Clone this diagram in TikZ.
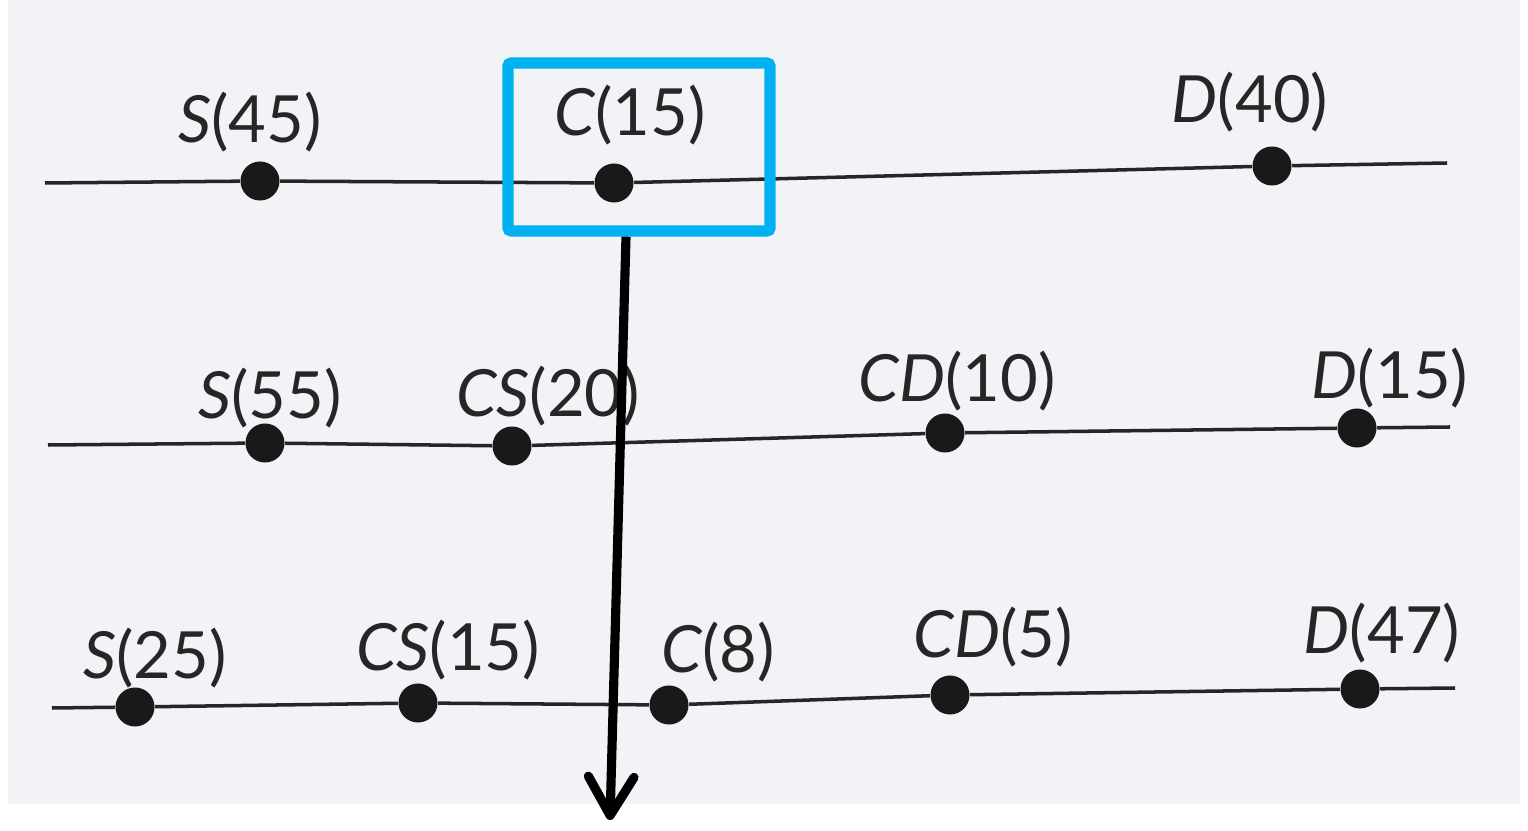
\documentclass[tikz,border=0pt]{standalone}
\usepackage{fontspec}
\setmainfont{Lato}
\usetikzlibrary{arrows.meta}
\definecolor{scan}{RGB}{242,243,247}
\definecolor{boxblue}{RGB}{0,176,240}

\begin{document}
\begin{tikzpicture}[x=0.01cm,y=-0.01cm,
    dot/.style={circle,fill=black!90,inner sep=0pt,minimum size=0.39cm},
    lab/.style={font=\fontsize{18.5}{20}\selectfont,text=black!85,inner sep=0pt},
    axis/.style={line width=1pt,black!85}]
    \useasboundingbox (0,0) rectangle (1528,831);
    \fill[scan] (8,0) rectangle (1520,804);

    % first line
    \coordinate (a1) at (45,183);
    \coordinate (b1) at (1447,163);
    \node[dot] (s1) at (260,181) {};
    \node[dot] (c1) at (614,183) {};
    \node[dot] (d1) at (1272,166) {};
    \draw[axis] (a1) -- (s1) -- (c1) -- (d1) -- (b1);
    \node[lab] (ls1) at (250,122) {\textit{S}(45)};
    \node[lab] (lc1) at (630,115) {\textit{C}(15)};
    \node[lab] (ld1) at (1250,102) {\textit{D}(40)};

    % second line
    \coordinate (a2) at (48,445);
    \coordinate (b2) at (1450,427);
    \node[dot] (s2) at (265,443) {};
    \node[dot] (cs2) at (512,446) {};
    \node[dot] (cd2) at (945,433) {};
    \node[dot] (d2) at (1357,428) {};
    \draw[axis] (a2) -- (s2) -- (cs2) -- (cd2) -- (d2) -- (b2);
    \node[lab] (ls2) at (270,398) {\textit{S}(55)};
    \node[lab] (lcs2) at (548,396) {\textit{CS}(20)};
    \node[lab] (lcd2) at (957,381) {\textit{CD}(10)};
    \node[lab] (ld2) at (1390,378) {\textit{D}(15)};

    % third line
    \coordinate (a3) at (52,708);
    \coordinate (b3) at (1455,688);
    \node[dot] (s3) at (135,707) {};
    \node[dot] (cs3) at (418,703) {};
    \node[dot] (c3) at (669,705) {};
    \node[dot] (cd3) at (950,695) {};
    \node[dot] (d3) at (1360,689) {};
    \draw[axis] (a3) -- (s3) -- (cs3) -- (c3) -- (cd3) -- (d3) -- (b3);
    \node[lab] (ls3) at (155,658) {\textit{S}(25)};
    \node[lab] (lcs3) at (448,650) {\textit{CS}(15)};
    \node[lab] (lc3) at (718,652) {\textit{C}(8)};
    \node[lab] (lcd3) at (993,637) {\textit{CD}(5)};
    \node[lab] (ld3) at (1382,633) {\textit{D}(47)};

    % highlight
    \node[draw=boxblue,line width=3.2pt,rounded corners=1pt,
          minimum width=2.62cm,minimum height=1.68cm] (box) at (639,147) {};
    \coordinate (tip) at (610,820);
    \draw[line width=2.6pt,-{Straight Barb[length=11pt,width=13pt,round]}]
        ([xshift=-0.13cm]box.south) -- (tip);
\end{tikzpicture}
\end{document}
